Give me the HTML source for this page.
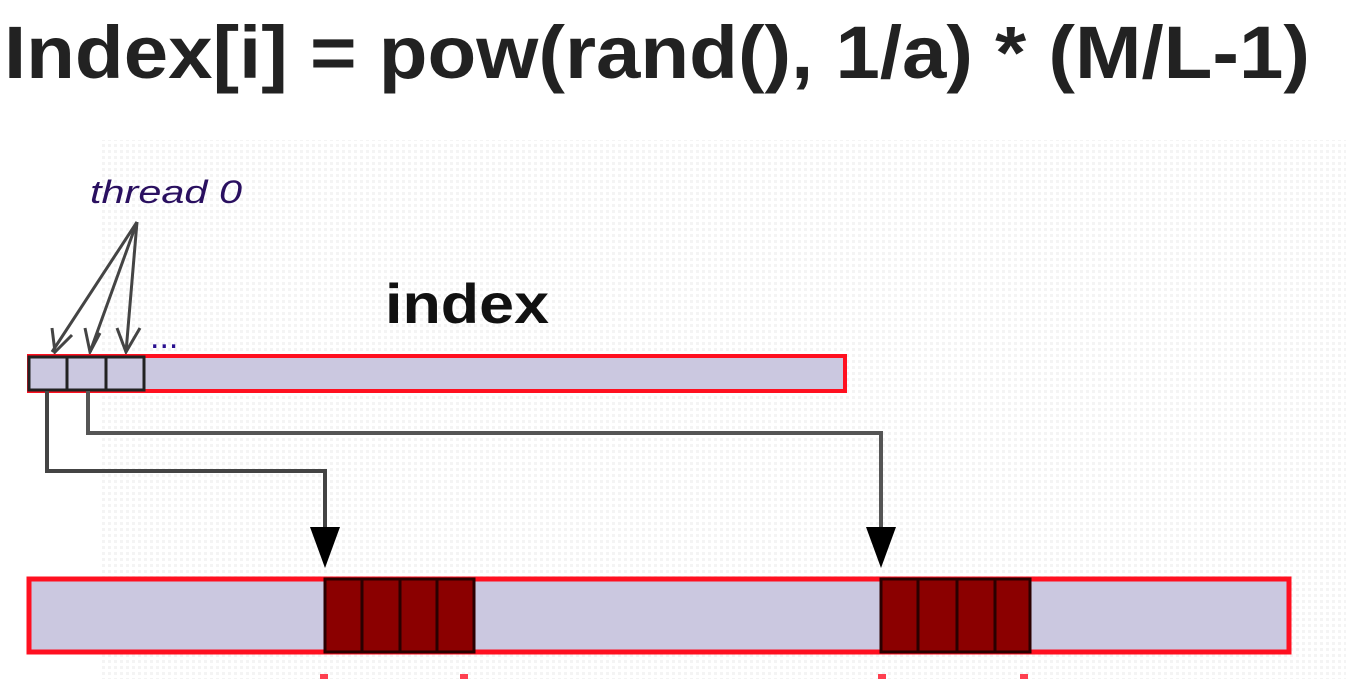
<!DOCTYPE html>
<html><head><style>html,body{margin:0;padding:0;background:#fff;}svg{display:block;}</style></head>
<body>
<svg width="1346" height="679" xmlns="http://www.w3.org/2000/svg" font-family="Liberation Sans, sans-serif">
<defs>
<pattern id="dots" width="6" height="6" patternUnits="userSpaceOnUse"><rect width="6" height="6" fill="#fff"/><rect x="0" y="0" width="3" height="3" fill="#f4f4f4"/></pattern>
</defs>
<rect x="100" y="140" width="1246" height="539" fill="url(#dots)"/>
<text x="4" y="78" font-size="74" font-weight="bold" fill="#222" textLength="1306" lengthAdjust="spacingAndGlyphs">Index[i] = pow(rand(), 1/a) * (M/L-1)</text>
<text x="90" y="203" font-size="32" font-style="italic" fill="#2a1060" textLength="152" lengthAdjust="spacingAndGlyphs">thread 0</text>
<text x="385" y="323" font-size="56" font-weight="bold" fill="#111" textLength="164" lengthAdjust="spacingAndGlyphs">index</text>
<text x="150" y="348" font-size="34" fill="#2a1090">...</text>
<g stroke="#444" stroke-width="3" fill="none">
<line x1="137" y1="222" x2="52" y2="352"/>
<line x1="137" y1="222" x2="90" y2="352"/>
<line x1="137" y1="222" x2="126" y2="352"/>
<polyline points="52,328 55,352 72,335"/>
<polyline points="85,328 90,352 100,333"/>
<polyline points="117,328 126,352 140,328"/>
</g>
<rect x="29" y="356" width="816" height="35" fill="#cbc8e0" stroke="#ff1020" stroke-width="4"/>
<g fill="#cbc8e0" stroke="#222" stroke-width="3">
<rect x="29" y="357" width="38" height="33"/>
<rect x="67" y="357" width="39" height="33"/>
<rect x="106" y="357" width="38" height="33"/>
</g>
<polyline points="47,391 47,471 325,471 325,530" fill="none" stroke="#444" stroke-width="4"/>
<polyline points="88,391 88,433 881,433 881,530" fill="none" stroke="#555" stroke-width="4"/>
<polygon points="310,527 340,527 325,568" fill="#000"/>
<polygon points="866,527 896,527 881,568" fill="#000"/>
<rect x="29" y="579" width="1260" height="73" fill="#cbc8e0" stroke="#ff1020" stroke-width="5"/>
<g fill="#8b0000" stroke="#2a0000" stroke-width="3">
<rect x="325" y="579" width="37" height="73"/>
<rect x="362" y="579" width="38" height="73"/>
<rect x="400" y="579" width="37" height="73"/>
<rect x="437" y="579" width="37" height="73"/>
<rect x="881" y="579" width="37" height="73"/>
<rect x="918" y="579" width="39" height="73"/>
<rect x="957" y="579" width="38" height="73"/>
<rect x="995" y="579" width="35" height="73"/>
</g>
<g fill="#ff4050">
<rect x="320" y="674" width="8" height="5"/><rect x="460" y="674" width="8" height="5"/>
<rect x="878" y="674" width="8" height="5"/><rect x="1020" y="674" width="8" height="5"/>
</g>
</svg>
</body></html>
